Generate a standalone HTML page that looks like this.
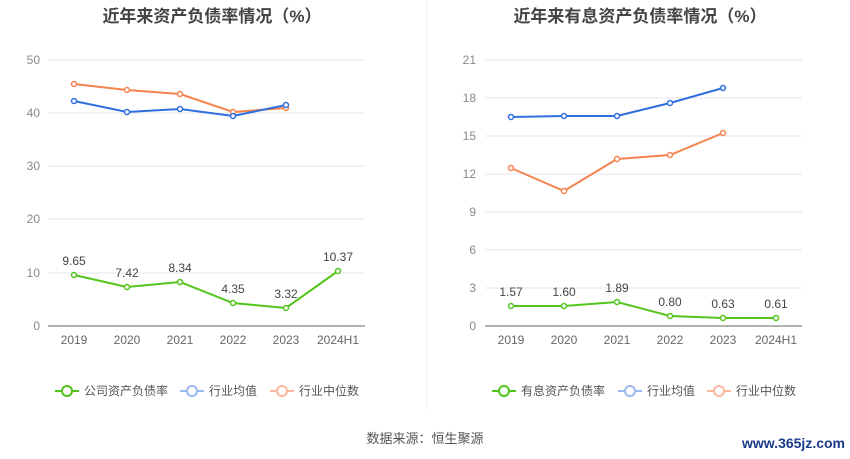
<!DOCTYPE html>
<html><head><meta charset="utf-8"><style>
body{margin:0;background:#fff;}
svg{display:block;font-family:"Liberation Sans","Noto Sans CJK SC",sans-serif;}
</style></head><body>
<svg width="850" height="459" xmlns="http://www.w3.org/2000/svg">
<rect width="850" height="459" fill="#fff"/>
<text x="212" y="22" text-anchor="middle" font-size="17" font-weight="bold" fill="#444">近年来资产负债率情况（%）</text>
<text x="640" y="22" text-anchor="middle" font-size="17" font-weight="bold" fill="#444">近年来有息资产负债率情况（%）</text>
<line x1="427" y1="0" x2="427" y2="410" stroke="#eee"/>
<!-- left grid -->
<g stroke="#e6e6ee" stroke-width="1">
<line x1="48" y1="60" x2="365" y2="60"/><line x1="48" y1="113" x2="365" y2="113"/><line x1="48" y1="166" x2="365" y2="166"/><line x1="48" y1="219" x2="365" y2="219"/><line x1="48" y1="273" x2="365" y2="273"/>
</g>
<line x1="48" y1="326" x2="365" y2="326" stroke="#666"/>
<g font-size="12" fill="#888" text-anchor="end">
<text x="40" y="64">50</text><text x="40" y="117">40</text><text x="40" y="170">30</text><text x="40" y="223">20</text><text x="40" y="277">10</text><text x="40" y="330">0</text>
</g>
<g font-size="12" fill="#666" text-anchor="middle">
<text x="74" y="344">2019</text><text x="127" y="344">2020</text><text x="180" y="344">2021</text><text x="233" y="344">2022</text><text x="286" y="344">2023</text><text x="338" y="344">2024H1</text>
</g>
<polyline fill="none" stroke="#f5834f" stroke-width="2" points="74,84 127,90 180,94 233,112 286,108"/>
<polyline fill="none" stroke="#2f6fe0" stroke-width="2" points="74,101 127,112 180,109 233,116 286,105"/>
<polyline fill="none" stroke="#52c41a" stroke-width="2" points="74,275 127,287 180,282 233,303 286,308 338,271"/>
<g fill="#fff" stroke-width="1.5">
<g stroke="#f5834f"><circle cx="74" cy="84" r="2.5"/><circle cx="127" cy="90" r="2.5"/><circle cx="180" cy="94" r="2.5"/><circle cx="233" cy="112" r="2.5"/><circle cx="286" cy="108" r="2.5"/></g>
<g stroke="#2f6fe0"><circle cx="74" cy="101" r="2.5"/><circle cx="127" cy="112" r="2.5"/><circle cx="180" cy="109" r="2.5"/><circle cx="233" cy="116" r="2.5"/><circle cx="286" cy="105" r="2.5"/></g>
<g stroke="#52c41a"><circle cx="74" cy="275" r="2.5"/><circle cx="127" cy="287" r="2.5"/><circle cx="180" cy="282" r="2.5"/><circle cx="233" cy="303" r="2.5"/><circle cx="286" cy="308" r="2.5"/><circle cx="338" cy="271" r="2.5"/></g>
</g>
<g font-size="12" fill="#444" text-anchor="middle">
<text x="74" y="265">9.65</text><text x="127" y="277">7.42</text><text x="180" y="272">8.34</text><text x="233" y="293">4.35</text><text x="286" y="298">3.32</text><text x="338" y="261">10.37</text>
</g>
<!-- right grid -->
<g stroke="#e6e6ee">
<line x1="485" y1="60" x2="802" y2="60"/><line x1="485" y1="98" x2="802" y2="98"/><line x1="485" y1="136" x2="802" y2="136"/><line x1="485" y1="174" x2="802" y2="174"/><line x1="485" y1="212" x2="802" y2="212"/><line x1="485" y1="250" x2="802" y2="250"/><line x1="485" y1="288" x2="802" y2="288"/>
</g>
<line x1="485" y1="326" x2="802" y2="326" stroke="#666"/>
<g font-size="12" fill="#888" text-anchor="end">
<text x="476" y="64">21</text><text x="476" y="102">18</text><text x="476" y="140">15</text><text x="476" y="178">12</text><text x="476" y="216">9</text><text x="476" y="254">6</text><text x="476" y="292">3</text><text x="476" y="330">0</text>
</g>
<g font-size="12" fill="#666" text-anchor="middle">
<text x="511" y="344">2019</text><text x="564" y="344">2020</text><text x="617" y="344">2021</text><text x="670" y="344">2022</text><text x="723" y="344">2023</text><text x="776" y="344">2024H1</text>
</g>
<polyline fill="none" stroke="#f5834f" stroke-width="2" points="511,168 564,191 617,159 670,155 723,133"/>
<polyline fill="none" stroke="#2f6fe0" stroke-width="2" points="511,117 564,116 617,116 670,103 723,88"/>
<polyline fill="none" stroke="#52c41a" stroke-width="2" points="511,306 564,306 617,302 670,316 723,318 776,318"/>
<g fill="#fff" stroke-width="1.5">
<g stroke="#f5834f"><circle cx="511" cy="168" r="2.5"/><circle cx="564" cy="191" r="2.5"/><circle cx="617" cy="159" r="2.5"/><circle cx="670" cy="155" r="2.5"/><circle cx="723" cy="133" r="2.5"/></g>
<g stroke="#2f6fe0"><circle cx="511" cy="117" r="2.5"/><circle cx="564" cy="116" r="2.5"/><circle cx="617" cy="116" r="2.5"/><circle cx="670" cy="103" r="2.5"/><circle cx="723" cy="88" r="2.5"/></g>
<g stroke="#52c41a"><circle cx="511" cy="306" r="2.5"/><circle cx="564" cy="306" r="2.5"/><circle cx="617" cy="302" r="2.5"/><circle cx="670" cy="316" r="2.5"/><circle cx="723" cy="318" r="2.5"/><circle cx="776" cy="318" r="2.5"/></g>
</g>
<g font-size="12" fill="#444" text-anchor="middle">
<text x="511" y="296">1.57</text><text x="564" y="296">1.60</text><text x="617" y="292">1.89</text><text x="670" y="306">0.80</text><text x="723" y="308">0.63</text><text x="776" y="308">0.61</text>
</g>
<!-- legends -->
<g font-size="12" fill="#555">
<line x1="55" y1="391" x2="79" y2="391" stroke="#52c41a" stroke-width="2"/><circle cx="67" cy="391" r="5" fill="#fff" stroke="#52c41a" stroke-width="2"/><text x="84" y="395">公司资产负债率</text>
<line x1="180" y1="391" x2="204" y2="391" stroke="#9bb8ef" stroke-width="2"/><circle cx="192" cy="391" r="5" fill="#fff" stroke="#9bb8ef" stroke-width="2"/><text x="209" y="395">行业均值</text>
<line x1="270" y1="391" x2="294" y2="391" stroke="#f9b99a" stroke-width="2"/><circle cx="282" cy="391" r="5" fill="#fff" stroke="#f9b99a" stroke-width="2"/><text x="299" y="395">行业中位数</text>
<line x1="492" y1="391" x2="516" y2="391" stroke="#52c41a" stroke-width="2"/><circle cx="504" cy="391" r="5" fill="#fff" stroke="#52c41a" stroke-width="2"/><text x="521" y="395">有息资产负债率</text>
<line x1="618" y1="391" x2="642" y2="391" stroke="#9bb8ef" stroke-width="2"/><circle cx="630" cy="391" r="5" fill="#fff" stroke="#9bb8ef" stroke-width="2"/><text x="647" y="395">行业均值</text>
<line x1="707" y1="391" x2="731" y2="391" stroke="#f9b99a" stroke-width="2"/><circle cx="719" cy="391" r="5" fill="#fff" stroke="#f9b99a" stroke-width="2"/><text x="736" y="395">行业中位数</text>
</g>
<text x="425" y="443" text-anchor="middle" font-size="13" fill="#555">数据来源：恒生聚源</text>
<text x="845" y="448" text-anchor="end" font-size="14" font-weight="bold" fill="#1a3a8a">www.365jz.com</text>
</svg>
</body></html>
